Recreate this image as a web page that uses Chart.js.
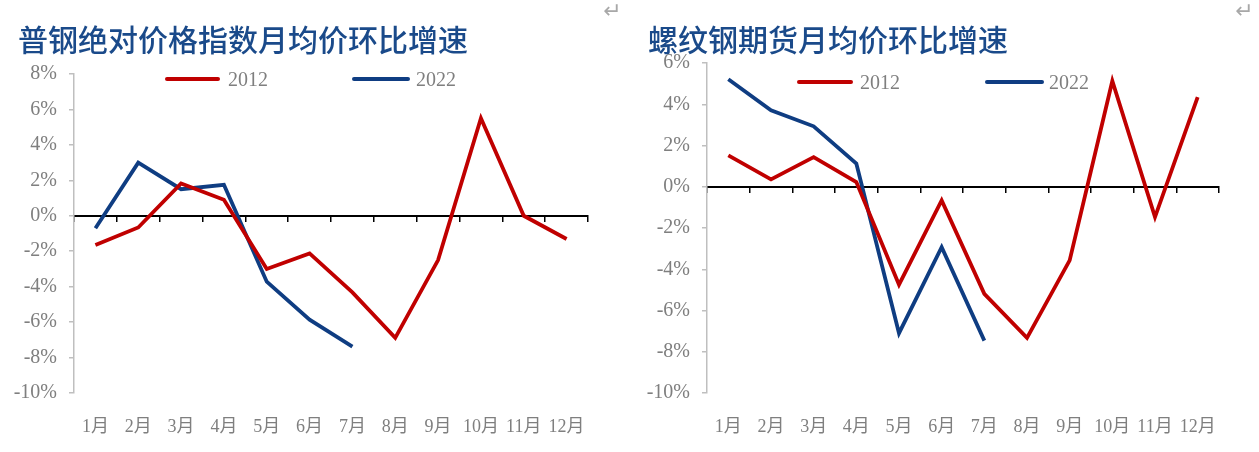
<!DOCTYPE html>
<html lang="zh">
<head>
  <meta charset="UTF-8">
  <title>钢价月均价环比增速</title>
  <style>
    body {
      margin: 0;
      padding: 0;
      background-color: #ffffff;
      width: 1259px;
      height: 452px;
      overflow: hidden;
      position: relative;
    }
    .panel {
      position: absolute;
      top: 0;
      height: 452px;
    }
    .title {
      position: absolute;
      top: 20px;
      font-family: 'Noto Sans CJK SC', sans-serif;
      font-size: 30px;
      font-weight: 500;
      color: #1a4a8a;
      white-space: nowrap;
      line-height: 36px;
    }
    .corner {
      position: absolute;
      top: -2px;
      font-family: 'DejaVu Sans', sans-serif;
      font-size: 22px;
      color: #a8a8a8;
    }
    .lg-line {
      position: absolute;
      height: 4px;
      border-radius: 2px;
    }
    .lg-text {
      position: absolute;
      font-family: 'Liberation Serif', serif;
      font-size: 20px;
      line-height: 22px;
      color: #7f7f7f;
    }
  </style>
</head>
<body>
  <!-- left panel -->
  <div class="panel" style="left:0; width:630px;">
    <canvas id="leftChart"></canvas>
  </div>
  <div class="title" style="left:18px;">普钢绝对价格指数月均价环比增速</div>
  <div class="corner" style="left:603px;">↵</div>
  <div class="lg-line" style="left:165px; top:77px; width:55px; background:#c00000;"></div>
  <div class="lg-text" style="left:228px; top:68px;">2012</div>
  <div class="lg-line" style="left:352px; top:77px; width:58px; background:#0f3d82;"></div>
  <div class="lg-text" style="left:416px; top:68px;">2022</div>

  <!-- right panel -->
  <div class="panel" style="left:630px; width:629px;">
    <canvas id="rightChart"></canvas>
  </div>
  <div class="title" style="left:648px;">螺纹钢期货月均价环比增速</div>
  <div class="corner" style="left:1235px;">↵</div>
  <div class="lg-line" style="left:797px; top:80px; width:56px; background:#c00000;"></div>
  <div class="lg-text" style="left:860px; top:71px;">2012</div>
  <div class="lg-line" style="left:985px; top:80px; width:59px; background:#0f3d82;"></div>
  <div class="lg-text" style="left:1049px; top:71px;">2022</div>

  <script src="https://cdn.jsdelivr.net/npm/chart.js"></script>
  <script>
    const months = ['1月', '2月', '3月', '4月', '5月', '6月', '7月', '8月', '9月', '10月', '11月', '12月'];

    // 普钢绝对价格指数月均价环比增速 (%)
    const index2012 = [-1.65, -0.66, 1.82, 0.90, -3.00, -2.12, -4.32, -6.89, -2.50, 5.50, 0.00, -1.31];
    const index2022 = [-0.70, 3.00, 1.50, 1.75, -3.72, -5.86, -7.38];

    // 螺纹钢期货月均价环比增速 (%)
    const rebar2012 = [1.52, 0.36, 1.44, 0.23, -4.75, -0.66, -5.19, -7.33, -3.57, 5.13, -1.47, 4.35];
    const rebar2022 = [5.21, 3.71, 2.93, 1.12, -7.10, -2.93, -7.46];

    const RED = '#c00000';
    const BLUE = '#0f3d82';
    const GREY = '#7f7f7f';
    const tickFont = { family: "'Liberation Serif', 'Noto Sans CJK SC', serif", size: 20 };
    const monthFont = { family: "'Liberation Serif', 'Noto Sans CJK SC', serif", size: 18 };

    function makeChart(id, red, blue, yMin, yMax, axisLeft, padTop, padRight, bottomH) {
      return new Chart(document.getElementById(id), {
        type: 'line',
        data: {
          labels: months,
          datasets: [
            { label: '2012', data: red, borderColor: RED, borderWidth: 3.8, pointRadius: 0, tension: 0, fill: false },
            { label: '2022', data: blue, borderColor: BLUE, borderWidth: 3.8, pointRadius: 0, tension: 0, fill: false }
          ]
        },
        options: {
          responsive: true,
          maintainAspectRatio: false,
          animation: false,
          devicePixelRatio: 1,
          layout: { padding: { top: padTop, right: padRight, bottom: 0, left: 0 } },
          plugins: {
            legend: { display: false },
            tooltip: { enabled: false }
          },
          scales: {
            // axis line with ticks at zero
            x: {
              type: 'category',
              position: { y: 0 },
              offset: true,
              ticks: { display: false },
              grid: { drawOnChartArea: false, offset: true, tickLength: 5, color: '#000000', lineWidth: 1.5 },
              border: { color: '#000000', width: 2 }
            },
            // month labels at the bottom
            x2: {
              type: 'category',
              position: 'bottom',
              offset: true,
              grid: { display: false },
              border: { display: false },
              ticks: { color: GREY, font: monthFont, padding: 15, maxRotation: 0, autoSkip: false },
              afterFit: s => { s.height = bottomH; }
            },
            y: {
              position: 'left',
              min: yMin,
              max: yMax,
              ticks: {
                stepSize: 2,
                color: GREY,
                font: tickFont,
                padding: 12,
                callback: v => v + '%'
              },
              grid: { drawOnChartArea: false, tickLength: 5, color: '#bfbfbf', lineWidth: 1.5 },
              border: { color: '#bfbfbf', width: 1.5 },
              afterFit: s => { s.width = axisLeft; }
            }
          }
        }
      });
    }

    makeChart('leftChart', index2012, index2022, -10, 8, 74, 74, 42, 59);
    makeChart('rightChart', rebar2012, rebar2022, -10, 6, 77, 63, 40, 59);
  </script>
</body>
</html>
